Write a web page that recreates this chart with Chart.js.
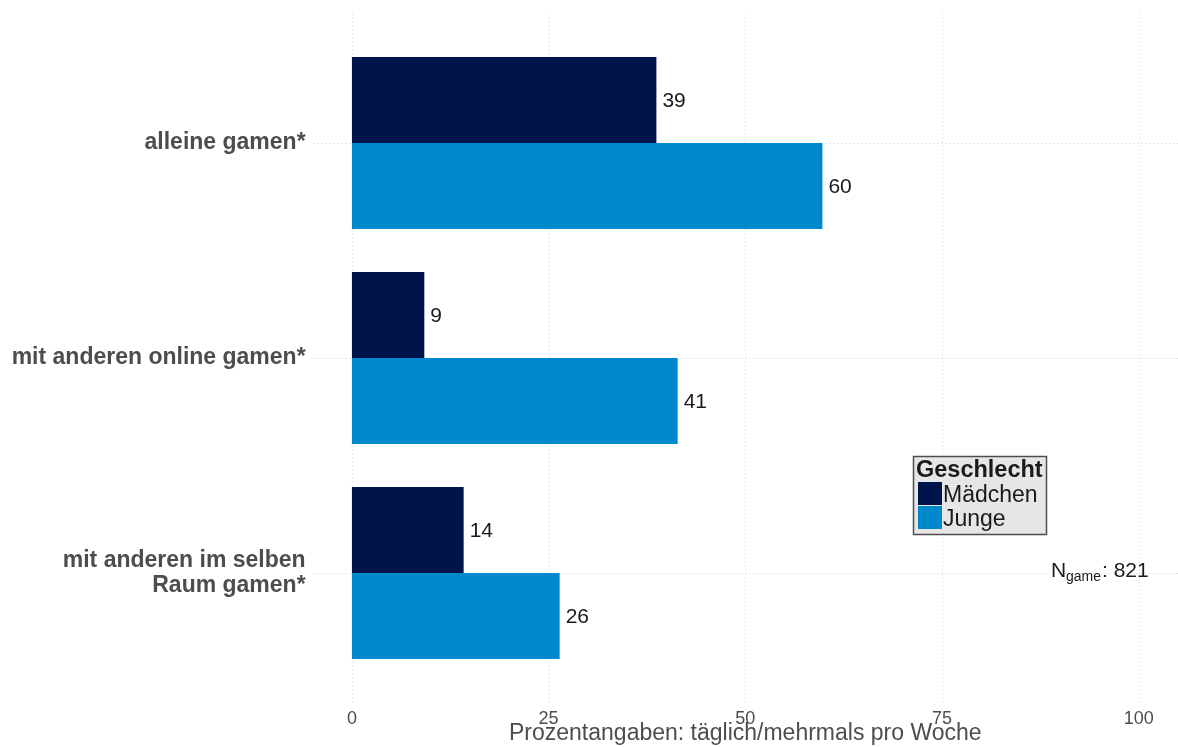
<!DOCTYPE html>
<html>
<head>
<meta charset="utf-8">
<script src="https://cdn.jsdelivr.net/npm/chart.js@4"></script>
<style>
  html, body { margin: 0; padding: 0; background: #ffffff; }
  #wrap { width: 1178px; height: 747px; }
</style>
</head>
<body>
<div id="wrap"><canvas id="gameChart" width="1178" height="747"></canvas></div>
<script>
// categories (y axis)
const categories = [
    'alleine gamen*',
    'mit anderen online gamen*',
    ['mit anderen im selben', 'Raum gamen*']
];
const seriesNames = ['Mädchen', 'Junge'];
const seriesColors = ['#00134b', '#0088cc'];
// percent values
const maedchenValues = [38.7, 9.2, 14.2];
const jungeValues = [59.8, 41.4, 26.4];
const xTicks = [0, 25, 50, 75, 100];
const xTitle = 'Prozentangaben: täglich/mehrmals pro Woche';
const legendTitle = 'Geschlecht';
const nLabel = { main: 'N', sub: 'game', value: ': 821' };

const FONT = "'Liberation Sans', Arial, sans-serif";
const gridColor = '#d2d2d2';

// dotted vertical grid lines spanning the whole panel
const gridPlugin = {
    id: 'xGrid',
    beforeDatasetsDraw(chart) {
        const ctx = chart.ctx;
        const x = chart.scales.x;
        const area = chart.chartArea;
        ctx.save();
        ctx.strokeStyle = gridColor;
        ctx.lineWidth = 1;
        ctx.setLineDash([1, 3]);
        xTicks.forEach(v => {
            const px = Math.round(x.getPixelForValue(v)) + 0.5;
            ctx.beginPath();
            ctx.moveTo(px, area.top - 22);
            ctx.lineTo(px, area.bottom + 22);
            ctx.stroke();
        });
        ctx.restore();
    }
};

// numbers to the right of each bar
const labelPlugin = {
    id: 'barLabels',
    afterDatasetsDraw(chart) {
        const ctx = chart.ctx;
        ctx.save();
        ctx.font = '21px ' + FONT;
        ctx.fillStyle = '#1a1a1a';
        ctx.textAlign = 'left';
        ctx.textBaseline = 'middle';
        chart.data.datasets.forEach((ds, i) => {
            chart.getDatasetMeta(i).data.forEach((bar, j) => {
                ctx.fillText(Math.round(ds.data[j]).toString(), bar.x + 6, bar.y + 1);
            });
        });
        ctx.restore();
    }
};

// legend box + N annotation inside the panel
const legendPlugin = {
    id: 'boxLegend',
    afterDraw(chart) {
        const ctx = chart.ctx;
        ctx.save();
        ctx.fillStyle = '#e6e6e6';
        ctx.fillRect(913.5, 456.5, 133, 78);
        ctx.strokeStyle = '#4d4d4d';
        ctx.lineWidth = 1.5;
        ctx.strokeRect(913.5, 456.5, 133, 78);

        ctx.fillStyle = '#1a1a1a';
        ctx.textBaseline = 'alphabetic';
        ctx.textAlign = 'left';
        ctx.font = 'bold 23.5px ' + FONT;
        ctx.fillText(legendTitle, 916, 477);

        ctx.font = '23px ' + FONT;
        seriesNames.forEach((name, i) => {
            ctx.fillStyle = seriesColors[i];
            ctx.fillRect(918, 482 + i * 24, 24, 23);
            ctx.fillStyle = '#1a1a1a';
            ctx.fillText(name, 943, 502 + i * 23.5);
        });

        ctx.font = '21px ' + FONT;
        ctx.fillText(nLabel.main, 1051, 577);
        ctx.font = '14px ' + FONT;
        ctx.fillText(nLabel.sub, 1066, 581);
        ctx.font = '21px ' + FONT;
        ctx.fillText(nLabel.value, 1102, 577);
        ctx.restore();
    }
};

const ctx = document.getElementById('gameChart').getContext('2d');
new Chart(ctx, {
    type: 'bar',
    data: {
        labels: categories,
        datasets: [
            { label: seriesNames[0], data: maedchenValues, backgroundColor: seriesColors[0] },
            { label: seriesNames[1], data: jungeValues, backgroundColor: seriesColors[1] }
        ]
    },
    options: {
        indexAxis: 'y',
        responsive: false,
        animation: false,
        categoryPercentage: 0.8,
        barPercentage: 1.0,
        layout: { padding: { top: 35.5, right: 0, bottom: 0, left: 0 } },
        plugins: {
            legend: { display: false },
            tooltip: { enabled: false }
        },
        scales: {
            x: {
                type: 'linear',
                min: -5,
                max: 105,
                afterBuildTicks: scale => { scale.ticks = xTicks.map(v => ({ value: v })); },
                afterFit: scale => { scale.height = 66.5; },
                grid: { display: false },
                border: { display: false },
                ticks: {
                    padding: 20,
                    color: '#4d4d4d',
                    font: { family: FONT, size: 18 }
                },
                title: {
                    display: true,
                    text: xTitle,
                    color: '#4d4d4d',
                    padding: { top: 0, bottom: 0 },
                    font: { family: FONT, size: 23 }
                }
            },
            y: {
                afterFit: scale => { scale.width = 312.6; },
                grid: {
                    offset: false,
                    drawTicks: false,
                    color: gridColor,
                    lineWidth: 1
                },
                border: { display: false, dash: [1, 3] },
                ticks: {
                    padding: 7,
                    color: '#4d4d4d',
                    font: { family: FONT, size: 23, weight: 'bold', lineHeight: 1.1 }
                }
            }
        }
    },
    plugins: [gridPlugin, labelPlugin, legendPlugin]
});
</script>
</body>
</html>
